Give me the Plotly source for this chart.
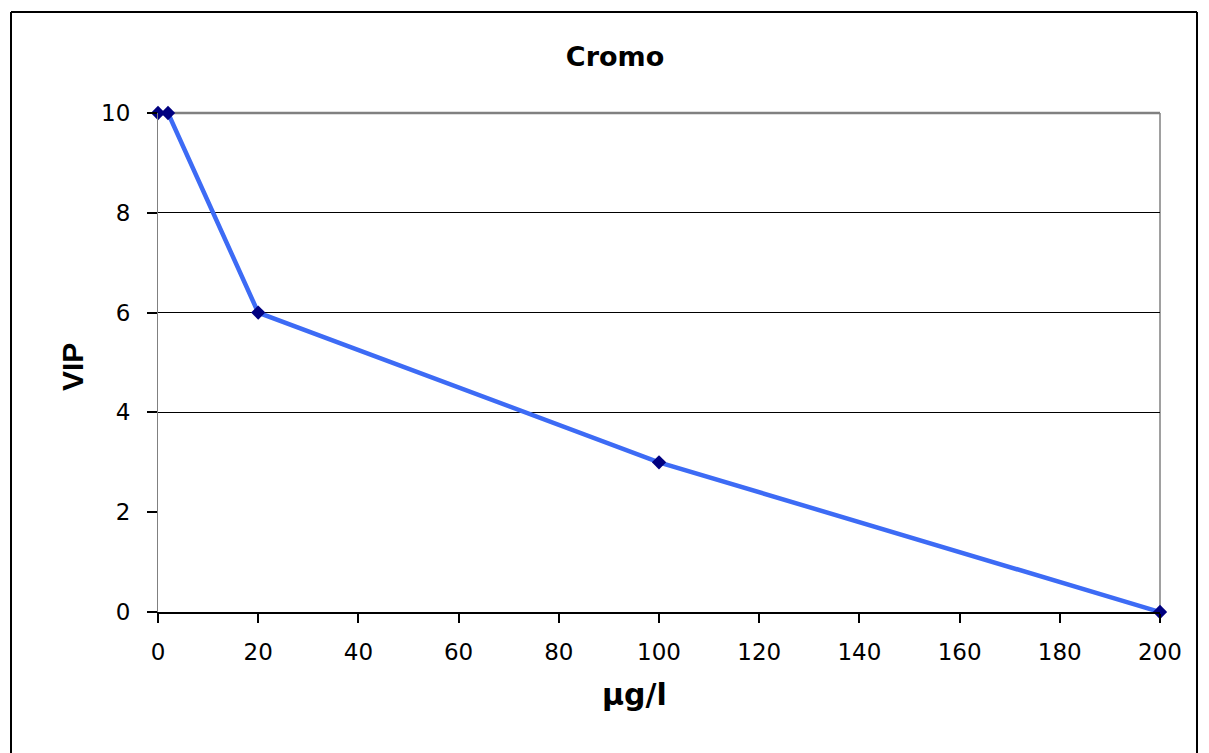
import plotly.graph_objects as go

# Data
conc = [0, 2, 20, 100, 200]
vip = [10, 10, 6, 3, 0]
x_ticks = [0, 20, 40, 60, 80, 100, 120, 140, 160, 180, 200]
y_ticks = [0, 2, 4, 6, 8, 10]
grid_vals = [4, 6, 8]

W, H = 1209, 753
OFF = 8  # page body margin
L, R, T, B = 158 - OFF, 1160 - OFF, 113 - OFF, 612 - OFF

def px_x(p):
    return (p - OFF - L) / (R - L)

def px_y(p):
    return (B - (p - OFF)) / (B - T)

FONT = "DejaVu Sans, sans-serif"
FONT_NARROW = "Liberation Sans, Arial, sans-serif"

fig = go.Figure()
fig.add_trace(go.Scatter(
    x=conc, y=vip, mode="lines+markers",
    line=dict(color="#3D6BF5", width=4.5),
    marker=dict(symbol="diamond", size=11, color="#000080"),
    showlegend=False, cliponaxis=False,
))
# invisible trace for the grid overlay axis
fig.add_trace(go.Scatter(x=[conc[0]], y=[vip[0]], yaxis="y2", mode="markers",
                         marker=dict(opacity=0), showlegend=False, hoverinfo="skip"))

fig.update_layout(
    width=W, height=H,
    margin=dict(l=L, r=W - R, t=T, b=H - B),
    paper_bgcolor="white", plot_bgcolor="white",
    font=dict(family=FONT, color="black", size=23),
    title=dict(text="<b>Cromo</b>", x=(615 - OFF) / W, xref="container", xanchor="center",
               y=1 - (57 - OFF) / H, yref="container", yanchor="middle",
               font=dict(size=27, family=FONT)),
    xaxis=dict(range=[0, 200], tickvals=x_ticks, showgrid=False, zeroline=False,
               showline=True, linecolor="black", linewidth=2,
               ticks="outside", ticklen=9, tickwidth=2, tickcolor="black",
               ticklabelstandoff=9, tickfont=dict(size=23)),
    yaxis=dict(range=[0, 10], tickvals=y_ticks, showgrid=False, zeroline=False,
               showline=True, linecolor="#808080", linewidth=1,
               ticks="outside", ticklen=10, tickwidth=1.5, tickcolor="black",
               ticklabelstandoff=12, tickfont=dict(size=23)),
    yaxis2=dict(range=[0, 10], overlaying="y", tickvals=grid_vals, showgrid=True,
                gridcolor="black", gridwidth=1, showticklabels=False,
                zeroline=False, showline=False, side="left"),
    shapes=[
        # plot area border (top and right, gray)
        dict(type="line", xref="paper", yref="paper", x0=0, x1=1, y0=1, y1=1,
             line=dict(color="#808080", width=2.5), layer="below"),
        dict(type="line", xref="paper", yref="paper", x0=1, x1=1, y0=0, y1=1,
             line=dict(color="#808080", width=1.5), layer="below"),
        # outer chart frame
        dict(type="line", xref="paper", yref="paper", x0=px_x(11), x1=px_x(11),
             y0=px_y(12), y1=px_y(770), line=dict(color="black", width=2)),
        dict(type="line", xref="paper", yref="paper", x0=px_x(11), x1=px_x(1197),
             y0=px_y(12), y1=px_y(12), line=dict(color="black", width=2)),
        dict(type="line", xref="paper", yref="paper", x0=px_x(1197), x1=px_x(1197),
             y0=px_y(12), y1=px_y(770), line=dict(color="black", width=2)),
    ],
    annotations=[
        dict(text="<b>μg/l</b>", xref="paper", yref="paper", x=px_x(634), y=px_y(694),
             xanchor="center", yanchor="middle", showarrow=False,
             font=dict(size=30, family=FONT)),
        dict(text="<b>VIP</b>", xref="paper", yref="paper", x=px_x(72), y=px_y(367),
             xanchor="center", yanchor="middle", showarrow=False, textangle=-90,
             font=dict(size=30, family=FONT_NARROW)),
    ],
)

fig.write_html("out.html")
